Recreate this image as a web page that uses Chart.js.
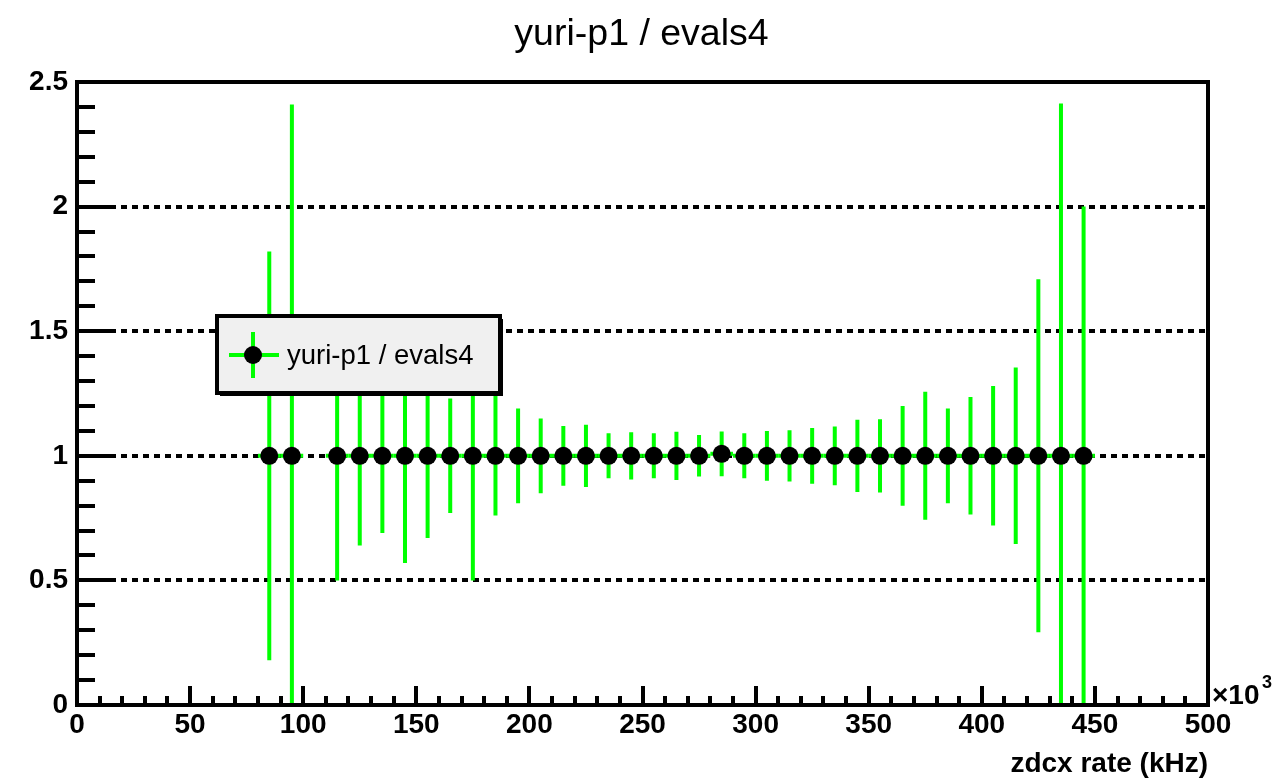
<!DOCTYPE html>
<html>
<head>
<meta charset="utf-8">
<title>yuri-p1 / evals4</title>
<script src="https://cdn.jsdelivr.net/npm/chart.js@4/dist/chart.umd.min.js"></script>
<style>
  html, body { margin: 0; padding: 0; background: #fff; }
  #wrap { width: 1283px; height: 781px; }
</style>
</head>
<body>
<div id="wrap"><canvas id="chart" width="1283" height="781"></canvas></div>
<script>
// zdcx rate bin centres (x10^3 kHz); the 105 bin is empty
const rates = [85, 95, 115, 125, 135, 145, 155, 165, 175, 185, 195, 205,
    215, 225, 235, 245, 255, 265, 275, 285, 295, 305, 315, 325,
    335, 345, 355, 365, 375, 385, 395, 405, 415, 425, 435, 445];
const ratios = [1, 1, 1, 1, 1, 1, 1, 1, 1, 1, 1, 1,
    1, 1, 1, 1, 1, 1, 1, 1.008, 1, 1, 1, 1,
    1, 1, 1, 1, 1, 1, 1, 1, 1, 1, 1, 1];
const errors = [0.82, 1.41, 0.50, 0.36, 0.31, 0.43, 0.33, 0.23, 0.50, 0.24, 0.19, 0.15,
    0.12, 0.125, 0.09, 0.095, 0.09, 0.097, 0.083, 0.09, 0.09, 0.10, 0.103, 0.112,
    0.118, 0.145, 0.147, 0.20, 0.257, 0.19, 0.236, 0.28, 0.354, 0.708, 1.414, 1.0];
const binHalfWidth = 5;

const xTickValues = [0, 50, 100, 150, 200, 250, 300, 350, 400, 450, 500];
const yTickValues = [0, 0.5, 1, 1.5, 2, 2.5];
const seriesLabel = 'yuri-p1 / evals4';
const xTitle = 'zdcx rate (kHz)';

const GREEN = '#00ff00';
const FONT = "'Liberation Sans', Arial, Helvetica, sans-serif";

// green error bars, drawn under the markers
const errorBarsPlugin = {
    id: 'error_bars',
    beforeDatasetsDraw: (chart) => {
        const { ctx, chartArea, scales: { x, y } } = chart;
        ctx.save();
        ctx.beginPath();
        ctx.rect(chartArea.left, chartArea.top, chartArea.width, chartArea.height);
        ctx.clip();
        ctx.strokeStyle = GREEN;
        ctx.lineWidth = 4;
        rates.forEach((r, i) => {
            const px = x.getPixelForValue(r);
            const py = y.getPixelForValue(ratios[i]);
            ctx.beginPath();
            ctx.moveTo(px, y.getPixelForValue(ratios[i] - errors[i]));
            ctx.lineTo(px, y.getPixelForValue(ratios[i] + errors[i]));
            ctx.moveTo(x.getPixelForValue(r - binHalfWidth), py);
            ctx.lineTo(x.getPixelForValue(r + binHalfWidth), py);
            ctx.stroke();
        });
        ctx.restore();
    }
};

// ROOT style title, frame with inward ticks, the x10^3 mark and the legend box
const framePlugin = {
    id: 'root_frame',
    afterDraw: (chart) => {
        const { ctx, chartArea: a, scales: { x, y } } = chart;
        ctx.save();
        ctx.fillStyle = '#000';
        ctx.textAlign = 'center';
        ctx.textBaseline = 'middle';
        ctx.font = `37.5px ${FONT}`;
        ctx.fillText(seriesLabel, chart.width / 2, 35);

        ctx.strokeStyle = '#000';
        ctx.lineWidth = 4;
        ctx.beginPath();
        for (let v = 0; v <= 2.5001; v += 0.1) {
            const py = Math.round(y.getPixelForValue(v));
            const major = Math.abs(v * 2 - Math.round(v * 2)) < 1e-6;
            ctx.moveTo(a.left, py);
            ctx.lineTo(a.left + (major ? 36 : 18), py);
        }
        for (let v = 0; v <= 500; v += 10) {
            const px = Math.round(x.getPixelForValue(v));
            ctx.moveTo(px, a.bottom);
            ctx.lineTo(px, a.bottom - (v % 50 === 0 ? 19 : 9));
        }
        ctx.stroke();
        ctx.strokeRect(a.left, a.top, a.right - a.left, a.bottom - a.top);

        ctx.textAlign = 'left';
        ctx.textBaseline = 'alphabetic';
        ctx.font = `bold 28px ${FONT}`;
        ctx.fillText('\u00d710', a.right + 4, a.bottom - 1);
        ctx.font = `bold 18px ${FONT}`;
        ctx.fillText('3', a.right + 54, a.bottom - 17);

        // legend
        const lx = 217, ly = 316, lw = 283, lh = 77;
        ctx.fillRect(lx + 3, ly + 3, lw, lh);
        ctx.fillStyle = '#f0f0f0';
        ctx.fillRect(lx, ly, lw, lh);
        ctx.lineWidth = 4;
        ctx.strokeRect(lx, ly, lw, lh);
        const mx = 253, my = 355;
        ctx.strokeStyle = GREEN;
        ctx.lineWidth = 4;
        ctx.beginPath();
        ctx.moveTo(mx - 24, my); ctx.lineTo(mx + 26, my);
        ctx.moveTo(mx, my - 23); ctx.lineTo(mx, my + 23);
        ctx.stroke();
        ctx.fillStyle = '#000';
        ctx.beginPath();
        ctx.arc(mx, my, 9, 0, Math.PI * 2);
        ctx.fill();
        ctx.font = `27.5px ${FONT}`;
        ctx.textBaseline = 'middle';
        ctx.fillText(chart.data.datasets[0].label, 287, my + 1);
        ctx.restore();
    }
};

const tickFont = { family: FONT, size: 28, weight: 'bold' };

new Chart(document.getElementById('chart'), {
    type: 'scatter',
    data: {
        datasets: [{
            label: seriesLabel,
            data: rates.map((r, i) => ({ x: r, y: ratios[i] })),
            pointRadius: 9,
            pointHoverRadius: 9,
            pointBackgroundColor: '#000',
            pointBorderWidth: 0,
            showLine: false
        }]
    },
    options: {
        responsive: false,
        animation: false,
        events: [],
        layout: { padding: { left: 0, right: 75, top: 82, bottom: 0 } },
        plugins: {
            legend: { display: false },
            tooltip: { enabled: false },
            title: { display: false }
        },
        scales: {
            x: {
                type: 'linear',
                min: 0,
                max: 500,
                afterBuildTicks: (scale) => { scale.ticks = xTickValues.map(v => ({ value: v })); },
                afterFit: (scale) => { scale.height = 76; },
                ticks: {
                    color: '#000',
                    font: tickFont,
                    padding: -5,
                    maxRotation: 0,
                    autoSkip: false,
                    callback: (v) => String(v)
                },
                grid: { display: false },
                border: { display: false },
                title: {
                    display: true,
                    text: xTitle,
                    align: 'end',
                    color: '#000',
                    font: { family: FONT, size: 28, weight: 'bold' },
                    padding: { top: 0, bottom: 0 }
                }
            },
            y: {
                type: 'linear',
                min: 0,
                max: 2.5,
                afterBuildTicks: (scale) => { scale.ticks = yTickValues.map(v => ({ value: v })); },
                afterFit: (scale) => { scale.width = 77; },
                ticks: {
                    color: '#000',
                    font: tickFont,
                    padding: 9,
                    callback: (v) => String(v)
                },
                grid: {
                    drawTicks: false,
                    lineWidth: 4,
                    color: (ctx) => (ctx.tick && ctx.tick.value > 0 && ctx.tick.value < 2.5) ? '#000' : 'rgba(0,0,0,0)'
                },
                border: { display: false, dash: [6, 5] }
            }
        }
    },
    plugins: [errorBarsPlugin, framePlugin]
});
</script>
</body>
</html>
